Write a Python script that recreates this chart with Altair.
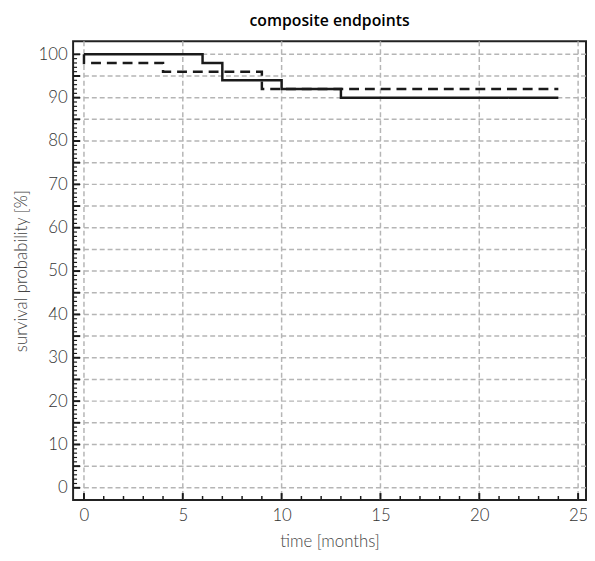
import altair as alt
import pandas as pd

# Data
solid_time = [0, 6, 7, 10, 13, 24]
solid_surv = [100, 98, 94, 92, 90, 90]
dashed_time = [0, 0, 4, 9, 24]
dashed_surv = [100, 98, 96, 92, 92]

x_ticks = list(range(0, 26, 5))
y_ticks = list(range(0, 101, 10))
x_minor = list(range(0, 26, 1))
y_minor = list(range(0, 101, 1))
grid_x = list(range(0, 26, 5))
grid_y = list(range(0, 101, 5))

XDOM = [-0.55, 25.4]
YDOM = [-2.8, 103]
FONT = "Lato"

df = pd.concat([
    pd.DataFrame({"t": solid_time, "s": solid_surv, "g": "a", "o": range(len(solid_time))}),
    pd.DataFrame({"t": dashed_time, "s": dashed_surv, "g": "b", "o": range(len(dashed_time))}),
])

xs = alt.Scale(domain=XDOM, nice=False, zero=False)
ys = alt.Scale(domain=YDOM, nice=False, zero=False)

lines = alt.Chart(df).mark_line(interpolate="step-after", color="#1a1a1a", strokeWidth=2.5).encode(
    x=alt.X("t:Q", scale=xs, axis=alt.Axis(values=x_ticks, title="time [months]", grid=False,
                                             ticks=False, domain=False, labelPadding=8, titlePadding=10)),
    y=alt.Y("s:Q", scale=ys, axis=alt.Axis(values=y_ticks, title="survival probability [%]", grid=False,
                                             ticks=False, domain=False, labelPadding=6, titlePadding=8)),
    detail="g:N",
    order="o:Q",
    strokeDash=alt.StrokeDash("g:N", scale=alt.Scale(domain=["a", "b"], range=[[1, 0], [10, 6]]), legend=None),
)

gx = alt.Chart(pd.DataFrame({"v": grid_x})).mark_rule(color="#b5b5b5", strokeWidth=1.5, strokeDash=[5, 3]).encode(
    x=alt.X("v:Q", scale=xs))
gy = alt.Chart(pd.DataFrame({"v": grid_y})).mark_rule(color="#b5b5b5", strokeWidth=1.5, strokeDash=[5, 3]).encode(
    y=alt.Y("v:Q", scale=ys))

xmin_df = pd.DataFrame({"v": x_minor, "len": [7 if v % 5 == 0 else 4 for v in x_minor]})
ymin_df = pd.DataFrame({"v": y_minor, "len": [7 if v % 5 == 0 else 4 for v in y_minor]})

tx_major = alt.Chart(xmin_df[xmin_df.len == 7]).mark_rule(color="#1a1a1a", strokeWidth=2, y2Offset=-7).encode(
    x=alt.X("v:Q", scale=xs), y=alt.datum(YDOM[0], scale=ys), y2=alt.datum(YDOM[0]))
tx_minor = alt.Chart(xmin_df[xmin_df.len == 4]).mark_rule(color="#1a1a1a", strokeWidth=1.5, y2Offset=-4).encode(
    x=alt.X("v:Q", scale=xs), y=alt.datum(YDOM[0], scale=ys), y2=alt.datum(YDOM[0]))
ty_major = alt.Chart(ymin_df[ymin_df.len == 7]).mark_rule(color="#1a1a1a", strokeWidth=2).encode(
    y=alt.Y("v:Q", scale=ys), x=alt.value(0), x2=alt.value(7))
ty_minor = alt.Chart(ymin_df[ymin_df.len == 4]).mark_rule(color="#1a1a1a", strokeWidth=1.2).encode(
    y=alt.Y("v:Q", scale=ys), x=alt.value(0), x2=alt.value(4))

chart = alt.layer(gx, gy, tx_minor, tx_major, ty_minor, ty_major, lines).properties(
    width=587, height=545,
    autosize=alt.AutoSizeParams(type="fit", contains="padding"),
    padding={"left": 4, "top": 1, "right": 0, "bottom": 0},
    title=alt.TitleParams("composite endpoints", font="Open Sans", fontSize=16, fontWeight=600, color="#000", offset=12),
).configure_view(stroke="#222", strokeWidth=2).configure_axis(
    labelFont=FONT, titleFont=FONT, labelFontSize=17, titleFontSize=17, labelColor="#333",
    titleColor="#444", labelFontWeight=300, titleFontWeight=300,
)

chart.save("out.html", embed_options={"renderer": "svg", "actions": False})
